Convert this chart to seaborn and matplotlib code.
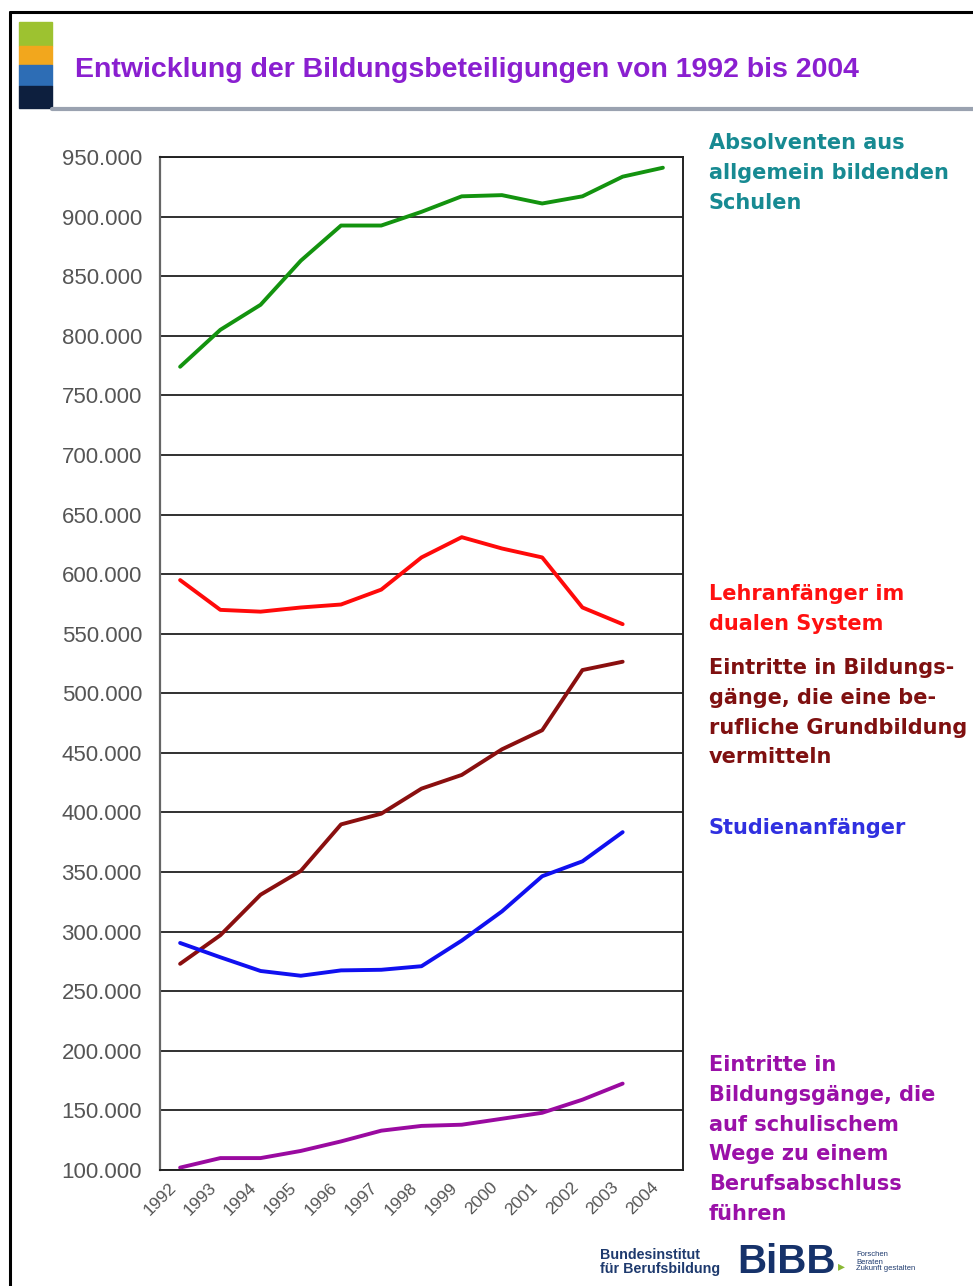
import numpy as np
import pandas as pd
import matplotlib.pyplot as plt
import matplotlib.patches as mpatches
from matplotlib.lines import Line2D
from matplotlib.ticker import FuncFormatter
import seaborn as sns

# Werte (Personen pro Jahr)
years = list(range(1992, 2005))
absolventen = [774000, 805000, 826000, 863000, 892500, 892500, 904000,
               917000, 918000, 911000, 917000, 933500, 941000]
lehranfaenger = [595000, 570000, 568500, 572000, 574500, 587000, 614000,
                 631000, 621500, 614000, 572000, 558000]
grundbildung = [273000, 297000, 331000, 351000, 390000, 399000, 420000,
                431500, 453000, 469000, 519500, 526500]
studienanfaenger = [290500, 278500, 267000, 263000, 267500, 268000, 271000,
                    292500, 317000, 346500, 359000, 383500]
schulisch = [102000, 110000, 110000, 116000, 124000, 133000, 137000,
             138000, 143000, 148000, 159000, 172500]

series = {
    "Absolventen": absolventen,
    "Lehranfänger": lehranfaenger,
    "Grundbildung": grundbildung,
    "Studienanfänger": studienanfaenger,
    "Schulisch": schulisch,
}
line_colors = {
    "Absolventen": "#13930f",
    "Lehranfänger": "#ff0a0a",
    "Grundbildung": "#8a0f0f",
    "Studienanfänger": "#1010f0",
    "Schulisch": "#9a0aa0",
}

rows = []
for name, vals in series.items():
    for yr, v in zip(years, vals):
        rows.append({"Jahr": yr, "Wert": v, "Reihe": name})
df = pd.DataFrame(rows)

sns.set_theme(style="white")
plt.rcParams["font.family"] = ["Liberation Sans", "DejaVu Sans"]

W, H = 973, 1286
fig = plt.figure(figsize=(W / 100, H / 100), dpi=100)
ax = fig.add_axes([160 / W, 1 - 1170 / H, 523 / W, 1013 / H])

sns.lineplot(data=df, x="Jahr", y="Wert", hue="Reihe", palette=line_colors,
             linewidth=2.8, legend=False, ax=ax)

ax.set_ylim(100000, 950000)
ax.set_xlim(1991.5, 2004.5)
ax.set_yticks(np.arange(100000, 950001, 50000))
ax.yaxis.set_major_formatter(FuncFormatter(lambda v, p: f"{int(v):,}".replace(",", ".")))
ax.set_xticks(np.arange(1991.5, 2004.6, 1))
ax.set_xticklabels([str(y) for y in years] + [""], rotation=45, ha="center")
ax.grid(axis="y", color="#303030", linewidth=1.4)
ax.set_axisbelow(True)
ax.set_xlabel("")
ax.set_ylabel("")
ax.tick_params(axis="both", direction="out", length=6, width=1.2, color="#333333",
               labelcolor="#555555")
ax.tick_params(axis="y", labelsize=16, pad=7)
ax.tick_params(axis="x", labelsize=12.5, pad=1)
for s in ["top", "right", "bottom"]:
    ax.spines[s].set_color("#222222")
    ax.spines[s].set_linewidth(1.4)
ax.spines["left"].set_color("#666666")
ax.spines["left"].set_linewidth(1.6)

# Kopfbereich
fig.add_artist(Line2D([10 / W, 1], [1 - 12 / H] * 2, color="black", lw=2.2))
fig.add_artist(Line2D([10 / W] * 2, [0, 1 - 12 / H], color="black", lw=2.2))
blocks = [(22, 46, "#9dc230"), (46, 65, "#f2a71d"), (65, 86, "#2d6db5"), (86, 108, "#0d1f3e")]
for y0, y1, c in blocks:
    fig.add_artist(mpatches.Rectangle((19 / W, 1 - y1 / H), 33 / W, (y1 - y0) / H,
                                      color=c, transform=fig.transFigure))
fig.add_artist(Line2D([52 / W, 1], [1 - 109 / H] * 2, color="#9aa2b0", lw=3))
fig.text(75 / W, 1 - 70 / H, "Entwicklung der Bildungsbeteiligungen von 1992 bis 2004",
         color="#8a1fd0", fontsize=20.5, fontweight="bold", va="center", ha="left")

# Beschriftungen rechts (Mitte der ersten Zeile, Zeilenabstand ~29.7 px)
labels = [
    (143, ["Absolventen aus", "allgemein bildenden", "Schulen"], "#178a92"),
    (594, ["Lehranfänger im", "dualen System"], "#ff1010"),
    (668, ["Eintritte in Bildungs-", "gänge, die eine be-", "rufliche Grundbildung", "vermitteln"], "#7f1010"),
    (828, ["Studienanfänger"], "#3030e0"),
    (1065, ["Eintritte in", "Bildungsgänge, die", "auf schulischem", "Wege zu einem",
            "Berufsabschluss", "führen"], "#9a10a8"),
]
for y0, lines, c in labels:
    for i, txt in enumerate(lines):
        fig.text(709 / W, 1 - (y0 + i * 29.8) / H, txt, color=c, fontsize=15,
                 fontweight="bold", family="DejaVu Sans", va="center", ha="left")

# Logo unten rechts
fig.text(600 / W, 1 - 1262 / H, "Bundesinstitut\nfür Berufsbildung", color="#1e3a6e",
         fontsize=10.3, fontweight="bold", va="center", ha="left", linespacing=1.0)
fig.text(737 / W, 1 - 1262 / H, "BiBB", color="#16326a", fontsize=29,
         fontweight="bold", va="center", ha="left")
fig.text(838 / W, 1 - 1266 / H, "▸", color="#8ab833", fontsize=10, va="center", ha="left",
         family="DejaVu Sans")
fig.text(856 / W, 1 - 1262 / H, "Forschen\nBeraten\nZukunft gestalten", color="#1e3a6e",
         fontsize=5.5, va="center", ha="left", linespacing=1.0)

fig.savefig("out.png", dpi=100)
